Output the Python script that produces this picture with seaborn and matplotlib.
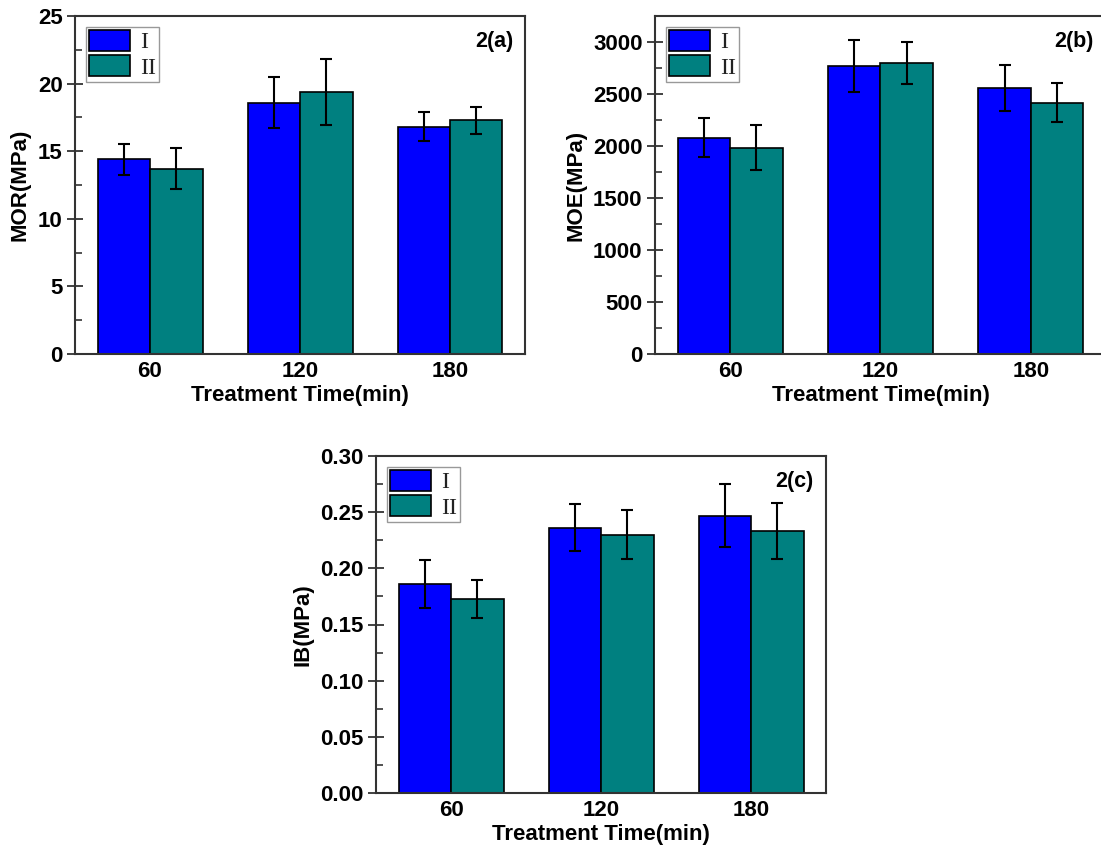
import numpy as np
import pandas as pd
import matplotlib
matplotlib.use("Agg")
import matplotlib.pyplot as plt
from matplotlib.ticker import MultipleLocator, FormatStrFormatter
import seaborn as sns

# ---- data ----
times = ["60", "120", "180"]
groups = ["I", "II"]

mor_I = [14.4, 18.6, 16.8]
mor_II = [13.7, 19.4, 17.3]
mor_err_I = [1.16, 1.9, 1.07]
mor_err_II = [1.52, 2.43, 1.0]

moe_I = [2080, 2774, 2556]
moe_II = [1984, 2797, 2415]
moe_err_I = [190, 250, 220]
moe_err_II = [215, 200, 187]

ib_I = [0.186, 0.236, 0.247]
ib_II = [0.173, 0.230, 0.233]
ib_err_I = [0.021, 0.021, 0.028]
ib_err_II = [0.017, 0.0215, 0.025]

ylabels = ["MOR(MPa)", "MOE(MPa)", "IB(MPa)"]
panel_labels = ["2(a)", "2(b)", "2(c)"]
xlabel = "Treatment Time(min)"

colors = ["#0000FF", "#008080"]

sns.set_style("ticks")
plt.rcParams["font.family"] = ["Liberation Sans", "DejaVu Sans"]
plt.rcParams["font.weight"] = "bold"
plt.rcParams["text.color"] = "black"
plt.rcParams["axes.labelcolor"] = "black"
plt.rcParams["xtick.color"] = "black"
plt.rcParams["ytick.color"] = "black"

W, H = 1101, 847
fig = plt.figure(figsize=(W / 100, H / 100), dpi=100)

def rect(l, t, r, b):
    return [l / W, 1 - b / H, (r - l) / W, (b - t) / H]

axes = [
    fig.add_axes(rect(75, 16, 525, 354)),
    fig.add_axes(rect(655, 16, 1106, 354)),
    fig.add_axes(rect(376, 456, 826, 793)),
]

panels = [
    (mor_I, mor_II, mor_err_I, mor_err_II, 25, 5, 2.5, "%d"),
    (moe_I, moe_II, moe_err_I, moe_err_II, 3250, 500, 250, "%d"),
    (ib_I, ib_II, ib_err_I, ib_err_II, 0.30, 0.05, 0.025, "%.2f"),
]

for ax, (vI, vII, eI, eII, ymax, major, minor, fmt), yl, pl in zip(axes, panels, ylabels, panel_labels):
    df = pd.DataFrame({
        "Time": times * 2,
        "Group": [groups[0]] * 3 + [groups[1]] * 3,
        "Value": list(vI) + list(vII),
    })
    sns.barplot(data=df, x="Time", y="Value", hue="Group", order=times,
                hue_order=groups, palette=colors, saturation=1, width=0.7,
                errorbar=None, edgecolor="black", linewidth=1.2, ax=ax)
    for cont, errs, vals in zip(ax.containers, [eI, eII], [vI, vII]):
        xs = [b.get_x() + b.get_width() / 2 for b in cont]
        ax.errorbar(xs, vals, yerr=errs, fmt="none", ecolor="black",
                    elinewidth=1.5, capsize=4, capthick=1.5, zorder=5)
    ax.set_xlim(-0.5, 2.5)
    ax.set_ylim(0, ymax)
    ax.yaxis.set_major_locator(MultipleLocator(major))
    ax.yaxis.set_minor_locator(MultipleLocator(minor))
    ax.yaxis.set_major_formatter(FormatStrFormatter(fmt))
    ax.tick_params(axis="y", which="major", direction="inout", length=12,
                   width=1.3, labelsize=16, pad=3, color="#333333",
                   labelcolor="black")
    ax.tick_params(axis="y", which="minor", direction="in", length=5,
                   width=1.2, color="#333333")
    ax.tick_params(axis="x", which="both", length=0, labelsize=16, pad=5,
                   labelcolor="black")
    for s in ax.spines.values():
        s.set_visible(True)
        s.set_linewidth(1.5)
        s.set_color("#333333")
    for lab in ax.get_xticklabels() + ax.get_yticklabels():
        lab.set_fontweight("bold")
    ax.set_xlabel(xlabel, fontsize=16, fontweight="bold", labelpad=2, color="black")
    ax.set_ylabel(yl, fontsize=16, fontweight="bold", labelpad=5, color="black")
    ax.text(1 - 12 / 450, 1 - 26 / 338, pl, transform=ax.transAxes,
            ha="right", va="center", fontsize=15.5, fontweight="bold", color="black")
    leg = ax.legend(loc="upper left", frameon=True, fancybox=False,
                    framealpha=1, edgecolor="#999999",
                    prop={"family": "Liberation Serif", "size": 17, "weight": "normal"},
                    handlelength=1.75, handleheight=0.95, handletextpad=0.4,
                    labelspacing=0.08, borderpad=0.15, borderaxespad=0.45,
                    title=None)
    leg.get_frame().set_linewidth(1.0)
    for t in leg.get_texts():
        t.set_color("#222222")

fig.savefig("out.png", dpi=100, facecolor="white")
